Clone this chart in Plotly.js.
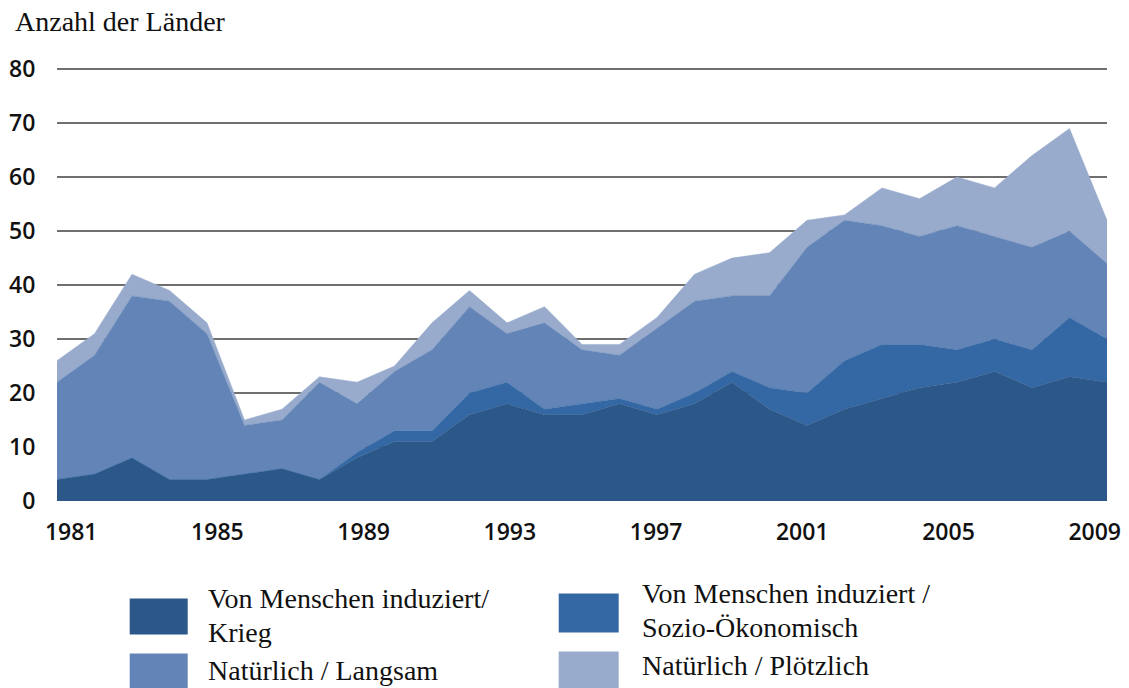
<!DOCTYPE html>
<html>
<head>
<meta charset="utf-8">
<script src="https://cdn.plot.ly/plotly-3.0.1.min.js"></script>
<style>
  html, body { margin: 0; padding: 0; background: #ffffff; }
  #chart { width: 1129px; height: 688px; }
</style>
</head>
<body>
<div id="chart"></div>
<script>
// ---- Data ----
const years = [1981,1982,1983,1984,1985,1986,1987,1988,1989,1990,
               1991,1992,1993,1994,1995,1996,1997,1998,1999,2000,
               2001,2002,2003,2004,2005,2006,2007,2008,2009];

const krieg      = [4,5,8,4,4,5,6,4,8,11, 11,16,18,16,16,18,16,18,22,17, 14,17,19,21,22,24,21,23,22];
const sozio      = [0,0,0,0,0,0,0,0,1,2,  2,4,4,1,2,1,1,2,2,4,            6,9,10,8,6,6,7,11,8];
const langsam    = [18,22,30,33,27,9,9,18,9,11, 15,16,9,16,10,8,15,17,14,17, 27,26,22,20,23,19,19,16,14];
const ploetzlich = [4,4,4,2,2,1,2,1,4,1,  5,3,2,3,1,2,2,5,7,8,            5,1,7,7,9,9,17,19,8];

const tickYears = [1981,1985,1989,1993,1997,2001,2005,2009];
const yTicks    = [0,10,20,30,40,50,60,70,80];

const seriesNames = [
  ["Von Menschen induziert/", "Krieg"],
  ["Von Menschen induziert /", "Sozio-Ökonomisch"],
  ["Natürlich / Langsam"],
  ["Natürlich / Plötzlich"]
];

// ---- Styles ----
const colors = ["#2c5789", "#3468a4", "#6384b6", "#98abcc"];
const W = 1129, H = 688;
const yMax = 80.4;
const bottomPx = 500.7, top80Px = 69.3;
const pxPerUnit = (bottomPx - top80Px) / 80;
const M = { l: 57.3, r: 21.7, t: bottomPx - yMax * pxPerUnit, b: H - bottomPx };
const plotW = W - M.l - M.r, plotH = H - M.t - M.b;
const px2x = p => (p - M.l) / plotW;
const px2y = p => (H - M.b - p) / plotH;

const serif = "Liberation Serif, Times New Roman, serif";
const sans  = "Open Sans, sans-serif";
const tickFont = { family: sans, size: 23, color: "#111111", weight: 600 };

const values = [krieg, sozio, langsam, ploetzlich];
const traces = values.map((v, i) => ({
  type: "scatter",
  mode: "lines",
  x: years,
  y: v,
  stackgroup: "one",
  name: seriesNames[i].join(" "),
  line: { width: 0.5, color: colors[i], shape: "linear" },
  fillcolor: colors[i],
  hoverinfo: "skip",
  showlegend: false
}));
// empty trace that only registers the label axis (no marks)
traces.push({ type: "scatter", mode: "lines", x: [], y: [], xaxis: "x2", yaxis: "y",
              hoverinfo: "skip", showlegend: false });

// legend built from shapes + annotations
const legendItems = [
  { sw: [130, 188, 598, 634], tx: 206, lines: [598, 632] },
  { sw: [559, 619, 593, 632], tx: 640, lines: [593, 627] },
  { sw: [130, 188, 653, 700], tx: 206, lines: [670] },
  { sw: [559, 619, 651, 700], tx: 640, lines: [665] }
];
const shapes = [];
const annotations = [];
legendItems.forEach((it, i) => {
  shapes.push({
    type: "rect", xref: "paper", yref: "paper",
    x0: px2x(it.sw[0]), x1: px2x(it.sw[1]),
    y0: px2y(it.sw[3]), y1: px2y(it.sw[2]),
    fillcolor: colors[i], line: { width: 0 }, layer: "above"
  });
  it.lines.forEach((ly, j) => {
    annotations.push({
      xref: "paper", yref: "paper",
      x: px2x(it.tx), y: px2y(ly),
      xanchor: "left", yanchor: "middle",
      text: seriesNames[i][j], showarrow: false,
      font: { family: serif, size: 28, color: "#111111" }
    });
  });
});

// label axis range so the year labels sit where the reference draws them
const labLeft = 71.5, labRight = 1095;
const span = (2009 - 1981) * plotW / (labRight - labLeft);
const a0 = 1981 - (labLeft - M.l) * span / plotW;

const layout = {
  width: W, height: H,
  margin: M,
  paper_bgcolor: "#ffffff",
  plot_bgcolor: "#ffffff",
  showlegend: false,
  title: {
    text: "Anzahl der Länder",
    x: 15 / W, xref: "container", xanchor: "left",
    y: 1 - 21 / H, yref: "container", yanchor: "middle",
    font: { family: serif, size: 28, color: "#111111" }
  },
  xaxis: {
    range: [1981, 2009],
    showgrid: false, zeroline: false, showline: false,
    showticklabels: false, ticks: "",
    fixedrange: true
  },
  xaxis2: {
    overlaying: "x", anchor: "y", side: "bottom",
    range: [a0, a0 + span],
    tickmode: "array",
    tickvals: tickYears, ticktext: tickYears.map(String),
    showgrid: false, zeroline: false, showline: false,
    ticks: "outside", ticklen: 10, tickcolor: "rgba(0,0,0,0)",
    tickfont: tickFont, fixedrange: true
  },
  yaxis: {
    range: [0, yMax],
    tickmode: "array",
    tickvals: yTicks, ticktext: yTicks.map(String),
    showgrid: true, gridcolor: "#6e6e6e", gridwidth: 1.5,
    zeroline: false, showline: false,
    ticks: "outside", ticklen: 16, tickcolor: "rgba(0,0,0,0)",
    tickfont: tickFont, fixedrange: true
  },
  shapes: shapes,
  annotations: annotations
};

Plotly.newPlot("chart", traces, layout, { displayModeBar: false, staticPlot: true });
</script>
</body>
</html>
